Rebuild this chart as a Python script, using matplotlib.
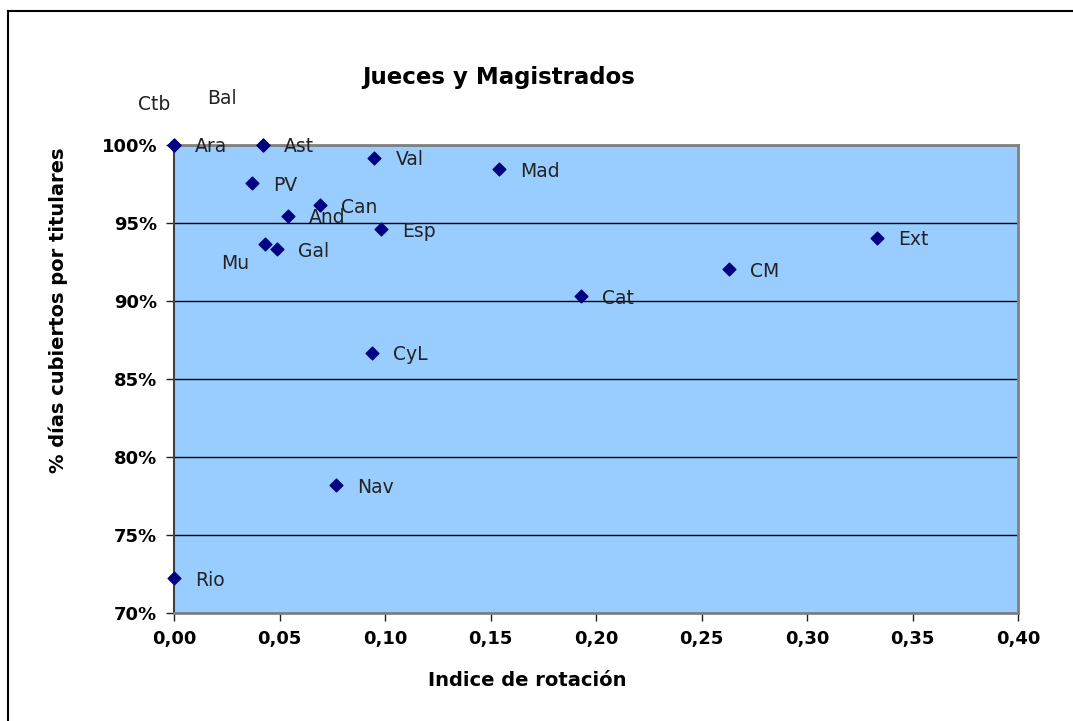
import matplotlib.pyplot as plt
from matplotlib.ticker import FuncFormatter, MultipleLocator

# Data
regions = ['Ara', 'Ctb', 'Ast', 'Bal', 'Val', 'Mad', 'PV', 'Can', 'And', 'Esp',
           'Ext', 'Mu', 'Gal', 'CM', 'Cat', 'CyL', 'Nav', 'Rio']
rotation = [0.000, 0.000, 0.042, 0.042, 0.095, 0.154, 0.037, 0.069, 0.054, 0.098,
            0.333, 0.043, 0.049, 0.263, 0.193, 0.094, 0.077, 0.000]
covered = [1.000, 1.000, 1.000, 1.000, 0.9917, 0.9846, 0.9756, 0.9615, 0.9545, 0.946,
           0.9404, 0.9365, 0.9333, 0.9205, 0.9032, 0.8667, 0.782, 0.7224]

# label offsets in pixels (most labels sit to the right of the marker)
default_offset = (21, -2)
special_offset = {'Mu': (-44, -19), 'Ctb': (-36, 40), 'Bal': (-55, 47)}

fig = plt.figure(figsize=(10.73, 7.21), dpi=100)
ax = fig.add_axes([174 / 1073, 1 - 613 / 721, (1018 - 174) / 1073, (613 - 145) / 721])
ax.set_facecolor('#99ccff')

ax.scatter(rotation, covered, marker='D', s=42, color='#000080', zorder=3, clip_on=False)
for name, x, y in zip(regions, rotation, covered):
    dx, dy = special_offset.get(name, default_offset)
    ax.annotate(name, (x, y), xytext=(dx, dy), textcoords='offset pixels',
                ha='left', va='center', fontsize=13.5, color='#222222', zorder=4,
                annotation_clip=False)

ax.set_xlim(0, 0.40)
ax.set_ylim(0.70, 1.00)
ax.xaxis.set_major_locator(MultipleLocator(0.05))
ax.yaxis.set_major_locator(MultipleLocator(0.05))
ax.xaxis.set_major_formatter(FuncFormatter(lambda v, p: f'{v:.2f}'.replace('.', ',')))
ax.yaxis.set_major_formatter(FuncFormatter(lambda v, p: f'{v * 100:.0f}%'))
ax.yaxis.grid(True, color='black', linewidth=1)
ax.set_axisbelow(True)

for side in ['top', 'right', 'bottom']:
    ax.spines[side].set_color('#808080')
    ax.spines[side].set_linewidth(2)
ax.spines['left'].set_color('#404040')
ax.spines['left'].set_linewidth(1.5)
ax.tick_params(direction='out', length=6, width=1, color='#202020',
               labelsize=13, pad=6)
for lab in ax.get_xticklabels() + ax.get_yticklabels():
    lab.set_fontweight('bold')

ax.set_title('Jueces y Magistrados', fontsize=16.5, fontweight='bold', pad=44, x=0.385)
ax.set_xlabel('Indice de rotación', fontsize=14, fontweight='bold')
ax.set_ylabel('% días cubiertos por titulares', fontsize=14, fontweight='bold')
ax.yaxis.set_label_coords(-0.125, 0.647)
ax.xaxis.set_label_coords(0.418, -0.125)

# outer chart frame (top and left edges only)
fig.add_artist(plt.Line2D([8 / 1073, 1], [1 - 11 / 721, 1 - 11 / 721], color='black', linewidth=1.5))
fig.add_artist(plt.Line2D([8 / 1073, 8 / 1073], [0, 1 - 11 / 721], color='black', linewidth=1.5))

fig.savefig('out.png', dpi=100)
